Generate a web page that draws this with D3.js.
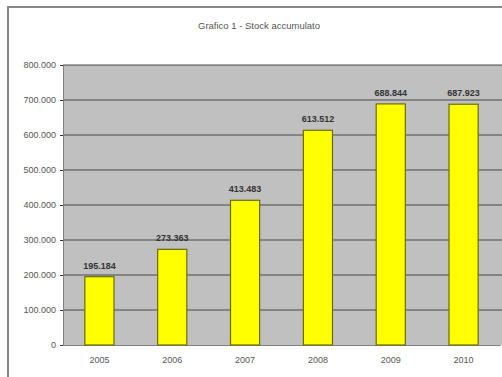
<!DOCTYPE html>
<html><head><meta charset="utf-8">
<script src="https://cdn.jsdelivr.net/npm/d3@7"></script>
<style>body{margin:0;background:#fff}svg{display:block}text{font-family:"Liberation Sans",Arial,sans-serif}</style>
</head><body>
<script>
const years = ["2005","2006","2007","2008","2009","2010"];
const values = [195184, 273363, 413483, 613512, 688844, 687923];
const valueLabels = ["195.184","273.363","413.483","613.512","688.844","687.923"];
const yTicks = [0,100000,200000,300000,400000,500000,600000,700000,800000];
const yTickLabels = ["0","100.000","200.000","300.000","400.000","500.000","600.000","700.000","800.000"];
const title = "Grafico 1 - Stock accumulato";

const W = 502, H = 377;
const svg = d3.select("body").append("svg").attr("width", W).attr("height", H);
// outer chart frame
svg.append("rect").attr("x", 8).attr("y", 7).attr("width", 520).attr("height", 400)
  .attr("fill", "#fff").attr("stroke", "#888").attr("stroke-width", 2);

const m = {left: 63, right: 500, top: 65, bottom: 345};
const x = d3.scaleBand().domain(years).range([m.left, m.right]).paddingInner(0.6).paddingOuter(0.3);
const y = d3.scaleLinear().domain([0, 800000]).range([m.bottom, m.top]);

svg.append("rect").attr("x", m.left).attr("y", m.top).attr("width", m.right - m.left + 2)
  .attr("height", m.bottom - m.top).attr("fill", "#c0c0c0");

// gridlines
svg.append("g").selectAll("line").data(yTicks.slice(1)).join("line")
  .attr("x1", m.left).attr("x2", m.right + 2)
  .attr("y1", d => y(d)).attr("y2", d => y(d))
  .attr("stroke", "#484848").attr("stroke-width", 1);

const font = "Liberation Sans, Arial, sans-serif";
// y axis
const yAxis = d3.axisLeft(y).tickValues(yTicks).tickFormat((d, i) => yTickLabels[i]).tickSize(3).tickPadding(4);
const ya = svg.append("g").attr("transform", `translate(${m.left},0)`).call(yAxis);
ya.select(".domain").attr("stroke", "#808080");
ya.selectAll(".tick line").attr("stroke", "#333");
ya.selectAll("text").attr("font-size", 9).attr("fill", "#555").attr("font-family", font);

// x axis
const xAxis = d3.axisBottom(x).tickSize(0).tickPadding(12);
const xa = svg.append("g").attr("transform", `translate(0,${m.bottom})`).call(xAxis);
xa.select(".domain").attr("stroke", "#808080");
xa.selectAll("text").attr("font-size", 9).attr("fill", "#555").attr("font-family", font);

// bars
svg.append("g").selectAll("rect").data(values).join("rect")
  .attr("x", (d, i) => x(years[i])).attr("width", x.bandwidth())
  .attr("y", d => y(d)).attr("height", d => y(0) - y(d))
  .attr("fill", "#ffff00").attr("stroke", "#6b6b10").attr("stroke-width", 1.2);

// value labels
svg.append("g").selectAll("text").data(values).join("text")
  .attr("x", (d, i) => x(years[i]) + x.bandwidth() / 2).attr("y", d => y(d) - 8)
  .attr("text-anchor", "middle").attr("font-size", 9).attr("font-weight", "bold").attr("fill", "#333")
  .text((d, i) => valueLabels[i]);

svg.append("text").attr("x", 259).attr("y", 29).attr("text-anchor", "middle")
  .attr("font-size", 9.5).attr("fill", "#555").text(title);
</script>
</body></html>
